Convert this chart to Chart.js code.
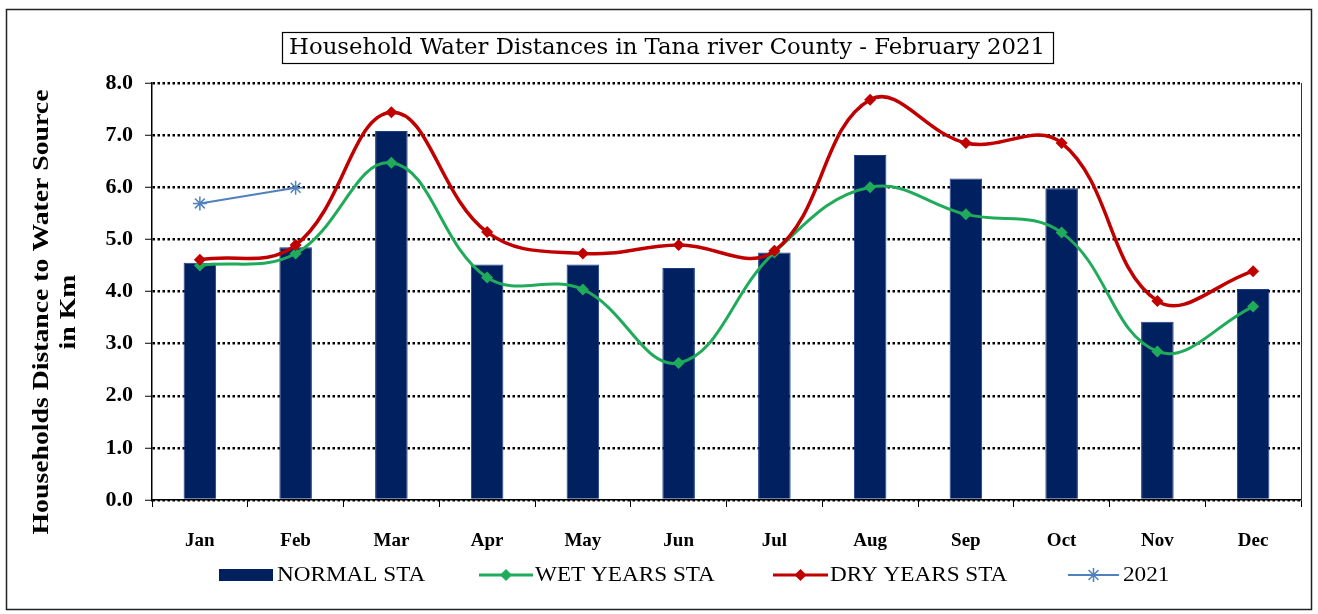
<!DOCTYPE html>
<html>
<head>
    <style>
        html, body { margin: 0; padding: 0; background: #fff; }
        #wrap { width: 1318px; height: 614px; position: relative; }
    </style>
    <script src="https://cdn.jsdelivr.net/npm/chart.js"></script>
</head>
<body>
    <div id="wrap"><canvas id="chart" width="1318" height="614"></canvas></div>
    <script>
        // data
        const months = ['Jan', 'Feb', 'Mar', 'Apr', 'May', 'Jun', 'Jul', 'Aug', 'Sep', 'Oct', 'Nov', 'Dec'];
        const normalSta = [4.55, 4.85, 7.08, 4.52, 4.52, 4.45, 4.75, 6.62, 6.17, 5.98, 3.42, 4.05];
        const wetYearsSta = [4.5, 4.73, 6.47, 4.27, 4.04, 2.63, 4.75, 6.0, 5.48, 5.13, 2.85, 3.71];
        const dryYearsSta = [4.61, 4.89, 7.44, 5.14, 4.73, 4.89, 4.78, 7.68, 6.85, 6.85, 3.82, 4.39];
        const y2021 = [5.69, 5.99, null, null, null, null, null, null, null, null, null, null];
        const yTicks = [0, 1, 2, 3, 4, 5, 6, 7, 8];

        const chartTitle = 'Household Water Distances in Tana river County - February 2021';
        const yTitle = ['Households Distance to Water Source', 'in Km'];

        const NAVY = '#002060';
        const GREEN = '#1fab5a';
        const RED = '#c00000';
        const BLUE = '#4f81bd';
        const SERIF = '"Liberation Serif", "Times New Roman", serif';

        // text stretched sideways to match the wide look of the original
        function wideText(ctx, text, x, y, sx) {
            ctx.save();
            ctx.translate(x, y);
            ctx.scale(sx, 1);
            ctx.fillText(text, 0, 0);
            ctx.restore();
        }

        // frame, title box, y title and legend are drawn here
        const decorPlugin = {
            id: 'decor',
            beforeDraw(chart) {
                const ctx = chart.ctx;
                ctx.save();
                ctx.fillStyle = '#fff';
                ctx.fillRect(0, 0, chart.width, chart.height);
                ctx.restore();
            },
            afterDraw(chart) {
                const ctx = chart.ctx;
                const area = chart.chartArea;
                ctx.save();

                // outer frame
                ctx.strokeStyle = '#222';
                ctx.lineWidth = 1.5;
                ctx.strokeRect(6.5, 9.5, 1305, 600);

                // right edge of plot area
                ctx.lineWidth = 1;
                ctx.strokeStyle = '#333';
                ctx.beginPath();
                ctx.moveTo(area.right + 0.5, area.top);
                ctx.lineTo(area.right + 0.5, area.bottom);
                ctx.stroke();

                // title in a box
                ctx.font = '20px "DejaVu Serif", serif';
                let w = ctx.measureText(chartTitle).width;
                ctx.font = (20 * 756 / w).toFixed(2) + 'px "DejaVu Serif", serif';
                ctx.fillStyle = '#000';
                ctx.textAlign = 'center';
                ctx.textBaseline = 'middle';
                ctx.fillText(chartTitle, 667, 48);
                ctx.strokeStyle = '#000';
                ctx.lineWidth = 1.2;
                ctx.strokeRect(282.5, 32.5, 771, 31);

                // y axis title, two lines rotated
                ctx.save();
                ctx.translate(42, 312);
                ctx.rotate(-Math.PI / 2);
                ctx.font = 'bold 24px ' + SERIF;
                ctx.textAlign = 'center';
                const tw = ctx.measureText(yTitle[0]).width;
                const sx = 445 / tw;
                wideText(ctx, yTitle[0], 0, 0, sx);
                wideText(ctx, yTitle[1], 0, 27, sx);
                ctx.restore();

                // legend
                const ly = 575;
                const ls = 1.16;
                ctx.font = '20px ' + SERIF;
                ctx.textAlign = 'left';
                ctx.textBaseline = 'middle';
                ctx.fillStyle = NAVY;
                ctx.fillRect(219, ly - 6, 54, 12);
                ctx.fillStyle = '#000';
                wideText(ctx, 'NORMAL STA', 277, ly + 1, ls);
                drawLineKey(ctx, 479, 533, ly, GREEN, 'diamond');
                ctx.fillStyle = '#000';
                wideText(ctx, 'WET YEARS STA', 535, ly + 1, ls);
                drawLineKey(ctx, 773, 828, ly, RED, 'diamond');
                ctx.fillStyle = '#000';
                wideText(ctx, 'DRY YEARS STA', 830, ly + 1, ls);
                drawLineKey(ctx, 1068, 1119, ly, BLUE, 'star');
                ctx.fillStyle = '#000';
                wideText(ctx, '2021', 1123, ly + 1, ls);

                ctx.restore();
            }
        };

        function drawLineKey(ctx, x0, x1, y, color, marker) {
            ctx.strokeStyle = color;
            ctx.fillStyle = color;
            ctx.lineWidth = marker === 'star' ? 2 : 3;
            ctx.beginPath();
            ctx.moveTo(x0, y);
            ctx.lineTo(x1, y);
            ctx.stroke();
            const cx = (x0 + x1) / 2;
            if (marker === 'diamond') {
                ctx.beginPath();
                ctx.moveTo(cx, y - 6);
                ctx.lineTo(cx + 6, y);
                ctx.lineTo(cx, y + 6);
                ctx.lineTo(cx - 6, y);
                ctx.closePath();
                ctx.fill();
            } else {
                ctx.lineWidth = 1.5;
                ctx.beginPath();
                for (let i = 0; i < 4; i++) {
                    const a = i * Math.PI / 4;
                    ctx.moveTo(cx - 7 * Math.cos(a), y - 7 * Math.sin(a));
                    ctx.lineTo(cx + 7 * Math.cos(a), y + 7 * Math.sin(a));
                }
                ctx.stroke();
            }
        }

        new Chart(document.getElementById('chart'), {
            type: 'bar',
            data: {
                labels: months,
                datasets: [
                    {
                        type: 'bar',
                        label: 'NORMAL STA',
                        data: normalSta,
                        backgroundColor: NAVY,
                        borderColor: '#1a3c8a',
                        borderWidth: 1,
                        barPercentage: 0.34,
                        categoryPercentage: 1,
                        order: 5
                    },
                    {
                        type: 'line',
                        label: 'WET YEARS STA',
                        data: wetYearsSta,
                        borderColor: GREEN,
                        backgroundColor: GREEN,
                        borderWidth: 3,
                        tension: 0.4,
                        pointStyle: 'rectRot',
                        pointRadius: 6,
                        pointBorderWidth: 0,
                        order: 3
                    },
                    {
                        type: 'line',
                        label: 'DRY YEARS STA',
                        data: dryYearsSta,
                        borderColor: RED,
                        backgroundColor: RED,
                        borderWidth: 3.5,
                        tension: 0.4,
                        pointStyle: 'rectRot',
                        pointRadius: 6,
                        pointBorderWidth: 0,
                        order: 2
                    },
                    {
                        type: 'line',
                        label: '2021',
                        data: y2021,
                        borderColor: BLUE,
                        backgroundColor: BLUE,
                        borderWidth: 2,
                        pointStyle: 'star',
                        pointRadius: 7,
                        pointBorderWidth: 1.5,
                        order: 1
                    }
                ]
            },
            options: {
                responsive: false,
                animation: false,
                layout: { padding: { left: 0, top: 83, right: 17, bottom: 64 } },
                plugins: {
                    legend: { display: false },
                    title: { display: false },
                    tooltip: { enabled: false }
                },
                scales: {
                    x: {
                        offset: true,
                        grid: {
                            offset: true,
                            drawOnChartArea: false,
                            tickLength: 7,
                            tickColor: '#000',
                            tickWidth: 1
                        },
                        border: { color: '#000', width: 1.5 },
                        ticks: {
                            color: '#000',
                            padding: 23,
                            font: { family: SERIF, size: 19, weight: 'bold' }
                        },
                        afterFit(scale) { scale.height = 50; }
                    },
                    y: {
                        min: 0,
                        max: 8,
                        afterBuildTicks(scale) {
                            scale.ticks = yTicks.map(v => ({ value: v }));
                        },
                        grid: {
                            color: '#000',
                            lineWidth: 2.5,
                            tickLength: 7,
                            tickColor: '#000',
                            tickWidth: 1
                        },
                        border: { color: '#000', width: 1.5, dash: [2.5, 2.5] },
                        ticks: {
                            color: '#000',
                            padding: 12,
                            font: { family: SERIF, size: 22, weight: 'bold' },
                            callback: v => Number(v).toFixed(1)
                        },
                        afterFit(scale) { scale.width = 152; }
                    }
                }
            },
            plugins: [decorPlugin]
        });
    </script>
</body>
</html>
